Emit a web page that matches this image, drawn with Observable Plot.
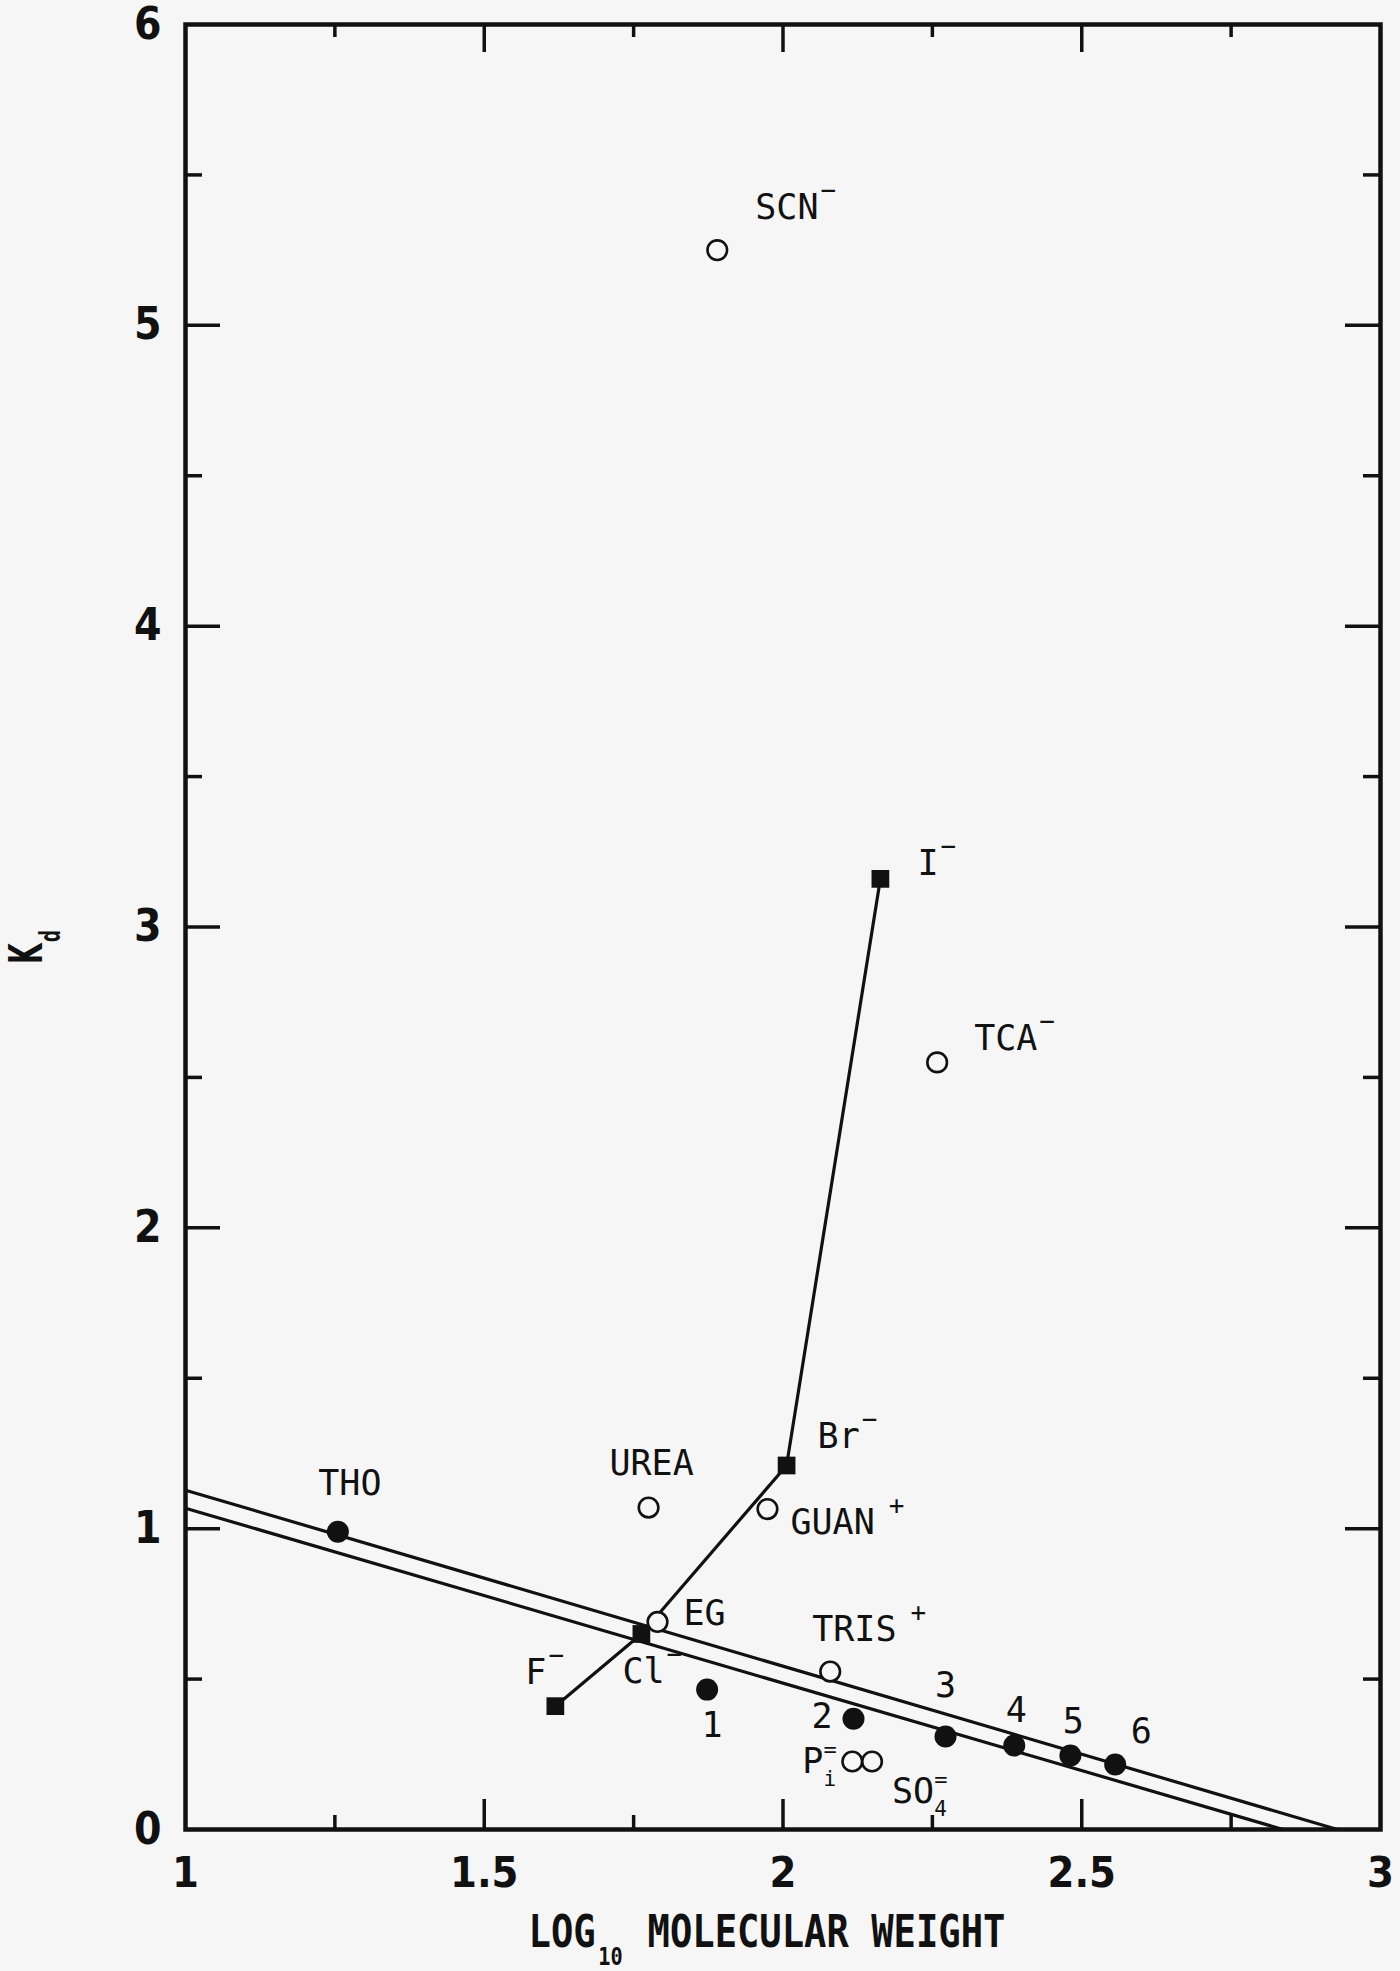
<!DOCTYPE html>
<html>
<head>
<meta charset="utf-8">
<script src="https://cdn.jsdelivr.net/npm/d3@7"></script>
<script src="https://cdn.jsdelivr.net/npm/@observablehq/plot@0.6"></script>
<style>
  html, body { margin: 0; padding: 0; background: #f6f6f6; }
  #chart svg { display: block; }
</style>
</head>
<body>
<div id="chart"></div>
<script>
// ---------------- data ----------------
const xTicks = [1, 1.5, 2, 2.5, 3];
const xTickLabels = ["1", "1.5", "2", "2.5", "3"];
const xMinorTicks = [1.25, 1.75, 2.25, 2.75];
const yTicks = [0, 1, 2, 3, 4, 5, 6];
const yMinorTicks = [0.5, 1.5, 2.5, 3.5, 4.5, 5.5];

// open circles
const openLabels = ["SCN⁻", "TCA⁻", "UREA", "GUAN ⁺", "EG", "TRIS ⁺", "Pᵢ⁼", "SO₄⁼"];
const openX = [1.89, 2.258, 1.775, 1.974, 1.79, 2.079, 2.116, 2.149];
const openY = [5.25, 2.55, 1.07, 1.065, 0.69, 0.525, 0.226, 0.226];

// halide salts (filled squares, joined)
const halideLabels = ["F⁻", "Cl⁻", "Br⁻", "I⁻"];
const halideX = [1.619, 1.763, 2.006, 2.163];
const halideY = [0.41, 0.65, 1.21, 3.16];

// filled circles
const seriesLabels = ["THO", "1", "2", "3", "4", "5", "6"];
const seriesX = [1.255, 1.873, 2.118, 2.272, 2.387, 2.481, 2.556];
const seriesY = [0.99, 0.465, 0.368, 0.309, 0.279, 0.246, 0.216];

// two parallel fitted lines: Kd at log MW = 1, and x-intercept (Kd = 0)
const fitNames = ["upper", "lower"];
const fitKdAtOne = [1.128, 1.068];
const fitXIntercept = [2.928, 2.837];

const xTitle = "LOG₁₀ MOLECULAR WEIGHT";
const yTitle = "Kd";

// ---------------- text markup (base, subscript, superscript, stacked?) ----------------
const textParts = {
  "SCN⁻": ["SCN", "", "−", false],
  "TCA⁻": ["TCA", "", "−", false],
  "GUAN ⁺": ["GUAN", "", "+", false],
  "TRIS ⁺": ["TRIS", "", "+", false],
  "Pᵢ⁼": ["P", "i", "=", true],
  "SO₄⁼": ["SO", "4", "=", true],
  "F⁻": ["F", "", "−", false],
  "Cl⁻": ["Cl", "", "−", false],
  "Br⁻": ["Br", "", "−", false],
  "I⁻": ["I", "", "−", false]
};

// ---------------- label layout (px offsets from each point) ----------------
const labelLayout = {
  "SCN⁻": [38, -42, "start"],
  "TCA⁻": [37, -24, "start"],
  "UREA": [3, -44, "middle"],
  "GUAN ⁺": [23, 14, "start"],
  "EG": [26, -8, "start"],
  "TRIS ⁺": [-18, -42, "start"],
  "Pᵢ⁼": [-50, 0, "start"],
  "SO₄⁼": [20, 30, "start"],
  "F⁻": [-30, -33, "start"],
  "Cl⁻": [-19, 38, "start"],
  "Br⁻": [31, -29, "start"],
  "I⁻": [37, -15, "start"],
  "THO": [12, -48, "middle"],
  "1": [5, 36, "middle"],
  "2": [-21, -2, "end"],
  "3": [0, -51, "middle"],
  "4": [2, -35, "middle"],
  "5": [3, -34, "middle"],
  "6": [26, -33, "middle"]
};

// ---------------- tables ----------------
const openPts = openLabels.map((label, i) => ({label, x: openX[i], y: openY[i]}));
const halidePts = halideLabels.map((label, i) => ({label, x: halideX[i], y: halideY[i]}));
const seriesPts = seriesLabels.map((label, i) => ({label, x: seriesX[i], y: seriesY[i]}));
const fits = fitNames.map((name, i) => ({name, x1: 1, y1: fitKdAtOne[i], x2: fitXIntercept[i], y2: 0}));
const allPts = [...openPts, ...halidePts, ...seriesPts];

// ---------------- layout / style ----------------
const W = 1400, H = 1971;
const mL = 185, mR = 20, mT = 24, mB = 142;
const fw = W - mL - mR;
const fh = H - mT - mB;
const ink = "#111";
const bg = "#f6f6f6";
const mono = "'DejaVu Sans Mono', monospace";
const cond = "'DejaVu Sans Condensed', 'DejaVu Sans', sans-serif";
const labelSize = 35;

const labelMarks = allPts.map(d => {
  const [dx, dy, anchor] = labelLayout[d.label];
  return Plot.text([d], {
    x: "x", y: "y", text: "label", dx, dy, textAnchor: anchor, lineAnchor: "middle",
    fontFamily: mono, fontSize: labelSize, fill: ink
  });
});

const chart = Plot.plot({
  width: W, height: H,
  marginLeft: mL, marginRight: mR, marginTop: mT, marginBottom: mB,
  x: {domain: [1, 3]},
  y: {domain: [0, 6]},
  style: {background: bg, color: ink, overflow: "visible"},
  marks: [
    // fitted lines
    Plot.link(fits, {x1: "x1", y1: "y1", x2: "x2", y2: "y2", stroke: ink, strokeWidth: 3.2}),
    // halide line
    Plot.line(halidePts, {x: "x", y: "y", stroke: ink, strokeWidth: 3.2}),
    // inward ticks: y left/right
    Plot.tickY(yTicks.slice(1, -1), {y: d => d, insetRight: fw - 35, stroke: ink, strokeWidth: 3.5}),
    Plot.tickY(yTicks.slice(1, -1), {y: d => d, insetLeft: fw - 35, stroke: ink, strokeWidth: 3.5}),
    Plot.tickY(yMinorTicks, {y: d => d, insetRight: fw - 17, stroke: ink, strokeWidth: 3.5}),
    Plot.tickY(yMinorTicks, {y: d => d, insetLeft: fw - 17, stroke: ink, strokeWidth: 3.5}),
    // inward ticks: x bottom/top
    Plot.tickX(xTicks.slice(1, -1), {x: d => d, insetTop: fh - 30, stroke: ink, strokeWidth: 3.5}),
    Plot.tickX(xTicks.slice(1, -1), {x: d => d, insetBottom: fh - 28, stroke: ink, strokeWidth: 3.5}),
    Plot.tickX(xMinorTicks, {x: d => d, insetTop: fh - 14, stroke: ink, strokeWidth: 3.5}),
    Plot.tickX(xMinorTicks, {x: d => d, insetBottom: fh - 13, stroke: ink, strokeWidth: 3.5}),
    Plot.frame({stroke: ink, strokeWidth: 4.5}),
    // axes labels
    Plot.axisX(xTicks, {
      tickSize: 0, tickPadding: 27, label: null,
      tickFormat: d => xTickLabels[xTicks.indexOf(d)],
      fontSize: 43, fontWeight: "bold", fontFamily: cond, fill: ink
    }),
    Plot.axisY(yTicks, {
      tickSize: 0, tickPadding: 24, label: null,
      tickFormat: d => String(d),
      fontSize: 44, fontWeight: "bold", fontFamily: cond, fill: ink
    }),
    // markers
    Plot.dot(seriesPts, {x: "x", y: "y", r: 11, fill: ink, stroke: "none"}),
    Plot.dot(halidePts, {x: "x", y: "y", r: 10, symbol: "square", fill: ink, stroke: "none"}),
    Plot.dot(openPts, {x: "x", y: "y", r: 9.8, fill: bg, stroke: ink, strokeWidth: 2.6}),
    // point labels
    ...labelMarks,
    // axis titles
    Plot.text([xTitle], {
      frameAnchor: "bottom", text: d => d, dx: -16, dy: 103, lineAnchor: "middle",
      fontFamily: mono, fontWeight: "bold", fontSize: 44, fill: ink
    }),
    Plot.text([yTitle], {
      frameAnchor: "left", text: d => d, rotate: -90, dx: -158, dy: 37, lineAnchor: "middle",
      fontFamily: cond, fontWeight: "bold", fontSize: 46, fill: ink
    })
  ]
});

document.getElementById("chart").appendChild(chart);

// ---------------- typographic touch-ups (sub/superscripts as tspans) ----------------
const svg = d3.select(chart);
svg.selectAll("text").filter(function () { return textParts[this.textContent] !== undefined; })
  .each(function () {
    const [base, sub, sup, stacked] = textParts[this.textContent];
    const t = d3.select(this);
    t.text(null);
    t.append("tspan").text(base);
    let subW = 0;
    if (sub) {
      const s = t.append("tspan").attr("font-size", 21).attr("dy", 13).text(sub);
      subW = s.node().getComputedTextLength();
    }
    if (sup) {
      if (stacked) {
        t.append("tspan").attr("font-size", 22).attr("dx", -subW).attr("dy", -29).text(sup);
      } else {
        const gap = sup === "+" ? 14 : 2;
        t.append("tspan").attr("font-size", 26).attr("dx", gap).attr("dy", -20).text(sup);
      }
    }
  });

// horizontal compression of a text element (plotter lettering is narrow)
function compress(node, targetWidth) {
  const w = node.getBBox().width;
  if (!w) return;
  const f = targetWidth / w;
  const tr = node.getAttribute("transform") || "";
  node.setAttribute("transform", `${tr} scale(${f.toFixed(4)},1)`);
}

// x title: LOG with subscript 10
svg.selectAll("text").filter(function () { return this.textContent === xTitle; })
  .each(function () {
    const t = d3.select(this);
    t.text(null);
    t.append("tspan").text("LOG");
    t.append("tspan").attr("font-size", 24).attr("dx", 3).attr("dy", 18).text("10");
    t.append("tspan").attr("dx", 3).attr("dy", -18).text(" MOLECULAR WEIGHT");
    compress(this, 477);
  });

// y title: K with subscript d
svg.selectAll("text").filter(function () { return this.textContent === yTitle; })
  .each(function () {
    const t = d3.select(this);
    t.text(null);
    t.append("tspan").text("K");
    t.append("tspan").attr("font-size", 29).attr("dx", 2).attr("dy", 18).text("d");
    compress(this, 34);
  });
</script>
</body>
</html>
